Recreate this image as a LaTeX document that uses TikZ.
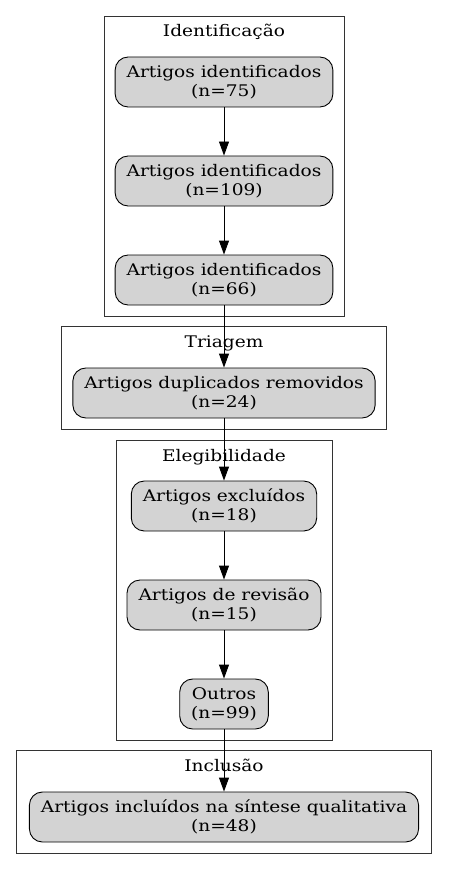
\documentclass[tikz,border=0pt]{standalone}
\usepackage{fontspec}
\setmainfont[FakeStretch=1.16]{DejaVu Serif}
\usetikzlibrary{arrows.meta}
\definecolor{boxfill}{HTML}{D3D3D3}
\tikzset{
  artbox/.style={draw=black, fill=boxfill, rounded corners=13pt, line width=0.9pt,
    align=center, font=\fontsize{16}{19}\selectfont, inner xsep=11.5pt, inner ysep=0pt,
    minimum height=50pt},
  grp/.style={draw=black!80, line width=0.9pt},
  grplab/.style={anchor=base, inner sep=0pt, font=\fontsize{16}{19}\selectfont},
  flow/.style={draw=black, line width=0.9pt, -{Triangle[length=14pt,width=10pt]}}
}

\begin{document}
\begin{tikzpicture}[x=1pt,y=-1pt]
  \useasboundingbox (0,0) rectangle (448,869);
  % clusters
  \draw[grp] (104,16) rectangle (344,316);
  \node[grplab] (lidf) at (224,37) {Identificação};
  \draw[grp] (61,326) rectangle (386,429);
  \node[grplab] (ltri) at (224,347) {Triagem};
  \draw[grp] (116,440) rectangle (332,740);
  \node[grplab] (lele) at (224,461) {Elegibilidade};
  \draw[grp] (16,750) rectangle (431,853);
  \node[grplab] (linc) at (224,771) {Inclusão};
  % nodes
  \node[artbox] (id1) at (224,82) {Artigos identificados\\(n=75)};
  \node[artbox] (id2) at (224,181) {Artigos identificados\\(n=109)};
  \node[artbox] (id3) at (224,280) {Artigos identificados\\(n=66)};
  \node[artbox] (dup) at (224,393) {Artigos duplicados removidos\\(n=24)};
  \node[artbox] (exc) at (224,506) {Artigos excluídos\\(n=18)};
  \node[artbox] (rev) at (224,605) {Artigos de revisão\\(n=15)};
  \node[artbox] (out) at (224,704) {Outros\\(n=99)};
  \node[artbox] (inc) at (224,817) {Artigos incluídos na síntese qualitativa\\(n=48)};
  % edges
  \draw[flow] (id1) -- (id2);
  \draw[flow] (id2) -- (id3);
  \draw[flow] (id3) -- (dup);
  \draw[flow] (dup) -- (exc);
  \draw[flow] (exc) -- (rev);
  \draw[flow] (rev) -- (out);
  \draw[flow] (out) -- (inc);
\end{tikzpicture}
\end{document}
